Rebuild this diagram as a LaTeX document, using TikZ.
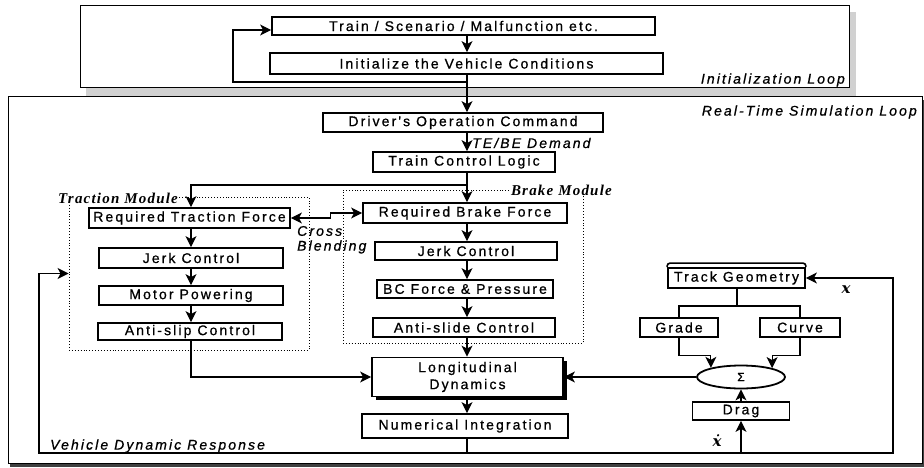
\documentclass[tikz,border=0pt]{standalone}
\usepackage{fontspec}
\setmainfont{Liberation Sans}
\newfontfamily\boxfont{Liberation Sans}[LetterSpace=15,FakeBold=0.8]
\newfontfamily\modfont{Liberation Serif}[LetterSpace=8]
\newfontfamily\varfont{DejaVu Serif}
\usetikzlibrary{arrows.meta,shapes.geometric,calc}
\begin{document}
\begin{tikzpicture}[x=1pt,y=-1pt,
  bx/.style={draw, line width=1.8pt, rectangle, inner sep=0pt, fill=white,
    font=\boxfont\fontsize{14}{17}\selectfont, align=center},
  arr/.style={line width=1.1pt, -{Stealth[length=11pt,width=11pt,inset=3pt]}},
  dbl/.style={line width=1.1pt, {Stealth[length=11pt,width=11pt,inset=3pt]}-{Stealth[length=11pt,width=11pt,inset=3pt]}},
  ln/.style={line width=1.1pt},
  modbox/.style={draw, dotted, line width=0.9pt, inner sep=0pt},
  lbl/.style={font=\boxfont\itshape\fontsize{14}{16}\selectfont, inner sep=0pt},
  modlbl/.style={font=\modfont\bfseries\itshape\fontsize{15}{17}\selectfont, inner sep=0pt},
  var/.style={font=\varfont\bfseries\itshape\fontsize{15}{17}\selectfont, inner sep=0pt}
]
\useasboundingbox (0,0) rectangle (924,468);

% ---- containers ----
\fill[black!18] (86,88) rectangle (856,96);
\fill[black!18] (849,12) rectangle (856,96);
\draw[line width=1pt] (80,6) rectangle (849,88);
\fill[black!75] (10,463) rectangle (924,467);
\fill[black!75] (922,100) rectangle (924,467);
\draw[line width=1pt] (8,97) rectangle (922,463);

% ---- module boxes ----
\node[modbox, minimum width=240pt, minimum height=153pt] (tmod) at (189,273.5) {};
\node[modbox, minimum width=240pt, minimum height=153pt] (bmod) at (463,266.5) {};

% ---- init loop ----
\node[bx, minimum width=383pt, minimum height=18pt] (train) at (463.5,26) {Train / Scenario / Malfunction etc.};
\node[bx, minimum width=393pt, minimum height=21pt] (init) at (466.5,63.5) {Initialize the Vehicle Conditions};

% ---- main column ----
\node[bx, minimum width=280pt, minimum height=19pt] (driver) at (463,122.5) {Driver's Operation Command};
\node[bx, minimum width=182pt, minimum height=20pt] (tcl) at (464,162) {Train Control Logic};
\node[bx, minimum width=204pt, minimum height=20pt] (rbf) at (465,213) {Required Brake Force};
\node[bx, minimum width=182pt, minimum height=18pt] (bjerk) at (466,251) {Jerk Control};
\node[bx, minimum width=176pt, minimum height=18pt] (bc) at (465,289) {BC Force \& Pressure};
\node[bx, minimum width=182pt, minimum height=19pt] (aslide) at (464,327.5) {Anti-slide Control};
\fill (376,361) rectangle (567,400);
\node[bx, minimum width=191pt, minimum height=39pt] (long) at (467.5,377) {Longitudinal\\Dynamics};
\node[bx, minimum width=206pt, minimum height=24pt] (numint) at (465,426) {Numerical Integration};

% ---- traction column ----
\node[bx, minimum width=201pt, minimum height=20pt] (rtf) at (189.5,218) {Required Traction Force};
\node[bx, minimum width=184pt, minimum height=20pt] (tjerk) at (191,258) {Jerk Control};
\node[bx, minimum width=184pt, minimum height=19pt] (motor) at (191,295.5) {Motor Powering};
\node[bx, minimum width=184pt, minimum height=17pt] (aslip) at (190,331.5) {Anti-slip Control};

% ---- track side ----
\node[bx, minimum width=137pt, minimum height=20pt] (track) at (736.5,278) {Track Geometry};
\draw[line width=1.6pt, rounded corners=3pt] (track.north west) -- ++(0,-4) -- ($(track.north east)+(0,-4)$) -- (track.north east);
\node[bx, minimum width=78pt, minimum height=19pt] (grade) at (679,327.5) {Grade};
\node[bx, minimum width=80pt, minimum height=19pt] (curve) at (800,327.5) {Curve};
\node[draw, ellipse, line width=1.8pt, minimum width=88pt, minimum height=23pt, inner sep=0pt, fill=white, font=\boxfont\fontsize{12}{14}\selectfont] (sigma) at (741,377) {Σ};
\node[bx, minimum width=97pt, minimum height=18pt] (drag) at (741,411) {Drag};

% ---- labels ----
\node[lbl, anchor=east] (initlbl) at (845,80) {Initialization Loop};
\node[lbl, anchor=east] (rtlbl) at (917,112) {Real-Time Simulation Loop};
\node[lbl, anchor=west] (vdrlbl) at (50,446) {Vehicle Dynamic Response};
\node[lbl, anchor=west] (tebe) at (472,143) {TE/BE Demand};
\node[lbl, anchor=west] (cross) at (297,231) {Cross};
\node[lbl, anchor=west] (blend) at (297,247) {Blending};
\node[modlbl, anchor=west, fill=white, inner sep=1pt] (tmodlbl) at (57,198) {Traction Module};
\node[modlbl, anchor=east, fill=white, inner sep=1pt] (bmodlbl) at (613,190) {Brake Module};
\node[var] (xlbl) at (846,290) {x};
\node[var] (xdotlbl) at (717,441) {ẋ};

% ---- coordinates ----
\coordinate (cx) at (467,0);
\coordinate (tx) at (191,0);
\coordinate (lp) at (467,82);
\coordinate (lc) at (233,82);
\coordinate (br) at (467,185);
\coordinate (fb1) at (467,453);
\coordinate (fbl) at (39,453);
\coordinate (fbr) at (893,453);
\coordinate (dragin) at (741,453);
\coordinate (tsplit) at (737,306);

% ---- connectors ----
\draw[arr] (train.south -| cx) -- (init.north -| cx);
\draw[arr] (init.south -| cx) -- (driver.north -| cx);
\draw[arr] (lp) -- (lc) |- ([yshift=-4pt]train.west);
\draw[arr] (driver.south -| cx) -- (tcl.north -| cx);
\draw[arr] (tcl.south -| cx) -- (rbf.north -| cx);
\draw[arr] (br) -| (rtf.north -| tx);
\draw[arr] (rbf.south -| cx) -- (bjerk.north -| cx);
\draw[arr] (bjerk.south -| cx) -- (bc.north -| cx);
\draw[arr] (bc.south -| cx) -- (aslide.north -| cx);
\draw[arr] (aslide.south -| cx) -- (long.north -| cx);
\draw[arr] (long.south -| cx) -- (numint.north -| cx);
\draw[dbl] (rtf.east) -- ++(40,0) |- (rbf.west);
\draw[arr] (rtf.south -| tx) -- (tjerk.north -| tx);
\draw[arr] (tjerk.south -| tx) -- (motor.north -| tx);
\draw[arr] (motor.south -| tx) -- (aslip.north -| tx);
\draw[arr] (aslip.south -| tx) |- (long.west);
\draw[arr] (sigma) -- (long);
\draw[ln] (numint.south -| cx) -- (fb1);
\draw[arr] (fb1) -- (fbl) |- (tmod.west);
\draw[arr] (fb1) -- (fbr) |- (track.east);
\draw[arr] (dragin) -- (drag.south -| dragin);
\draw[arr] (drag.north -| sigma) -- (sigma.south);
\draw[ln] (track.south -| tsplit) -- (tsplit);
\draw[ln] (grade.north) |- (tsplit) -| (curve.north);
\draw[arr] (grade.south) -- ++(0,18) -| (sigma.163.4);
\draw[arr] (curve.south) -- ++(0,18) -| (sigma.16.6);
\end{tikzpicture}
\end{document}
